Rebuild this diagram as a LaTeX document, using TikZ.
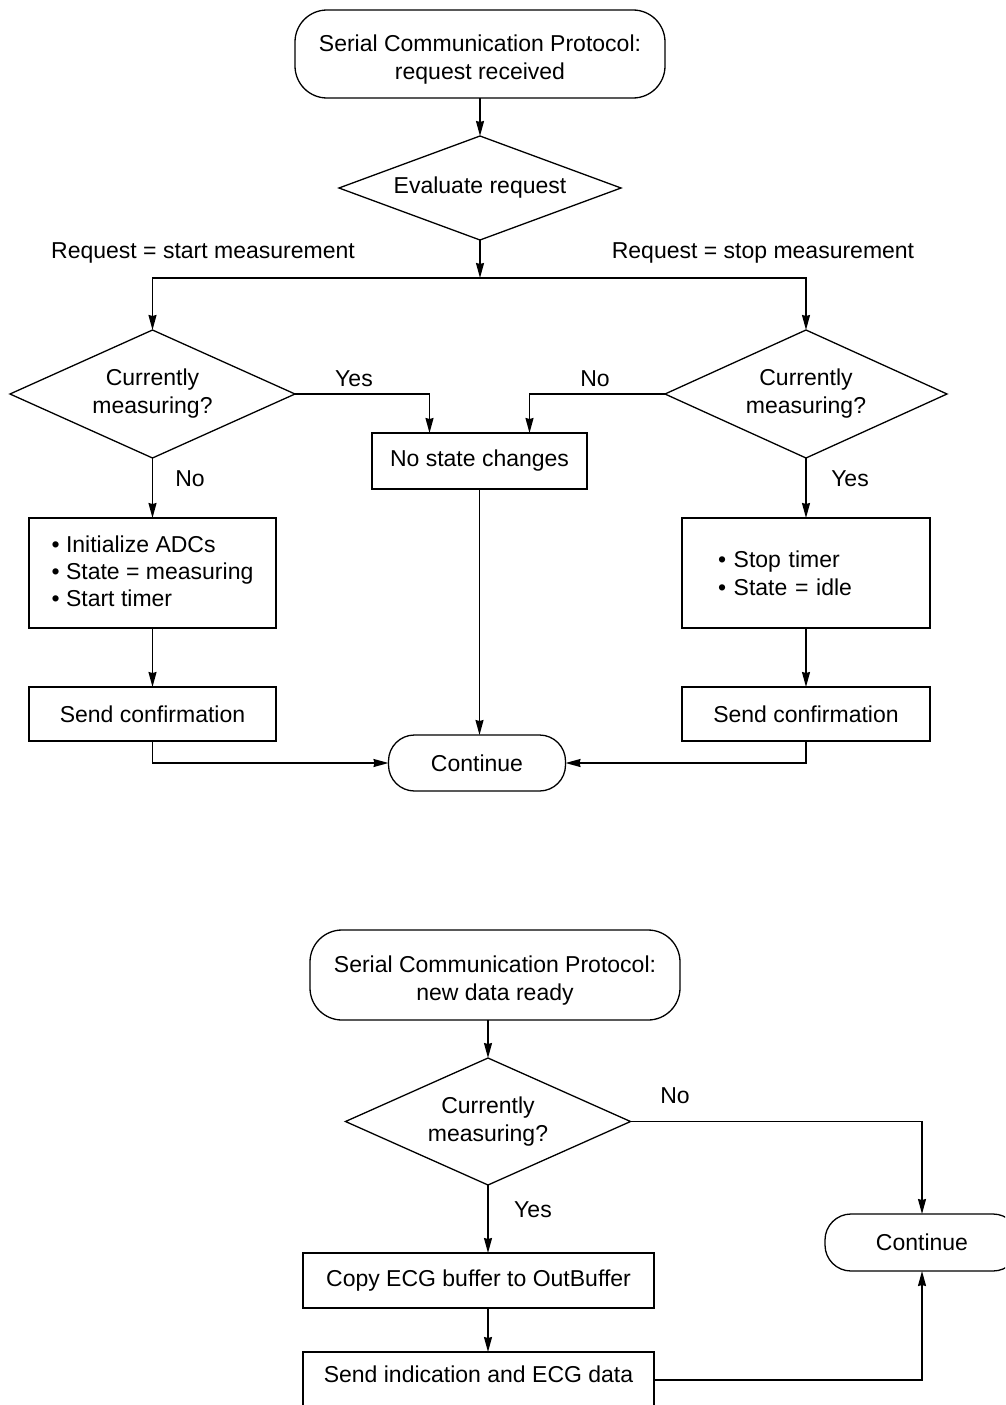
\documentclass[tikz,border=0pt]{standalone}
\usepackage{fontspec}
\setmainfont{Liberation Sans}
\usetikzlibrary{arrows.meta,shapes.geometric}
\begin{document}
\begin{tikzpicture}[x=1pt,y=-1pt,
  font=\fontsize{23}{28}\selectfont,
  every node/.style={inner sep=0pt, outer sep=0pt},
  term/.style={draw, line width=1.3pt, rectangle, rounded corners=#1, align=center},
  dec/.style={draw, line width=1.3pt, diamond, align=center},
  proc/.style={draw, line width=1.6pt, rectangle, align=center},
  lbl/.style={font=\fontsize{23}{28}\selectfont},
  arr/.style={line width=1.5pt, -{Stealth[length=15pt,width=8pt,inset=1pt]}},
  ln/.style={line width=1.5pt}]
\useasboundingbox (0,0) rectangle (1005,1405);
\clip (0,0) rectangle (1005,1405);

% ---------- top flow ----------
\node[term=32pt, minimum width=370pt, minimum height=88pt] (t1) at (480,54)
  {\rule{0pt}{27pt}Serial Communication Protocol:\\request received};
\node[dec, aspect=2.9, minimum width=282pt, minimum height=104pt] (ev) at (480,188) {Evaluate request};
\coordinate (j) at (480,278);
\node[dec, aspect=2.3, minimum width=285pt, minimum height=128pt] (d1) at (152.5,394) {Currently\\measuring?};
\node[dec, aspect=2.3, minimum width=282pt, minimum height=128pt] (d2) at (806,394) {Currently\\measuring?};
\node[proc, minimum width=215pt, minimum height=56pt] (nsc) at (479.5,461) {No state changes};
\node[proc, minimum width=247pt, minimum height=110pt, align=left] (b1) at (152.5,573)
  {\textbullet\ Initialize ADCs\\[-1pt]\textbullet\ State = measuring\\[-1pt]\textbullet\ Start timer\\[-24pt]};
\node[proc, minimum width=248pt, minimum height=110pt, text width=176pt, inner xsep=36pt, align=left] (b2) at (806,573)
  {\textbullet\ Stop timer\\\textbullet\ State = idle\\[-2pt]};
\node[proc, minimum width=247pt, minimum height=54pt] (sc1) at (152.5,714) {Send confirmation};
\node[proc, minimum width=248pt, minimum height=54pt] (sc2) at (806,714) {Send confirmation};
\node[term=26pt, minimum width=177pt, minimum height=56pt] (c1) at (477,763) {Continue};

\draw[arr] (t1.south) -- (ev.north);
\draw[arr] (ev.south) -- (j);
\draw[arr] (j) -| (d1.north);
\draw[arr] (j) -| (d2.north);
\draw[arr] (d1.east) -| ([xshift=-50pt]nsc.north);
\draw[arr] (d2.west) -| ([xshift=50pt]nsc.north);
\draw[arr] (d1.south) -- (b1.north);
\draw[arr] (d2.south) -- (b2.north);
\draw[arr] (b1.south) -- (sc1.north);
\draw[arr] (b2.south) -- (sc2.north);
\draw[arr] (nsc.south) -- (nsc.south |- c1.north);
\draw[arr] (sc1.south) |- (c1.west);
\draw[arr] (sc2.south) |- (c1.east);

\node[lbl] (l1) at (203,253) {Request = start measurement};
\node[lbl] (l2) at (763,253) {Request = stop measurement};
\node[lbl] (l3) at (354,379) {Yes};
\node[lbl] (l4) at (595,379) {No};
\node[lbl] (l5) at (190,479) {No};
\node[lbl] (l6) at (850,479) {Yes};

% ---------- bottom flow ----------
\node[term=32pt, minimum width=370pt, minimum height=90pt] (t2) at (495,975)
  {\rule{0pt}{27pt}Serial Communication Protocol:\\new data ready};
\node[dec, aspect=2.3, minimum width=285pt, minimum height=127pt] (d3) at (488,1121.5) {Currently\\measuring?};
\node[proc, minimum width=351pt, minimum height=55pt] (cp) at (478.5,1280.5) {Copy ECG buffer to OutBuffer};
\node[proc, minimum width=351pt, minimum height=56pt] (sd) at (478.5,1380) {Send indication and ECG data\\[-16pt]};
\node[term=26pt, minimum width=194pt, minimum height=57pt] (c2) at (922,1242.5) {Continue};

\draw[arr] (t2.south -| d3.north) -- (d3.north);
\draw[arr] (d3.south) -- (cp.north -| d3.south);
\draw[arr] (cp.south -| d3.south) -- (sd.north -| d3.south);
\draw[arr] (d3.east) -| (c2.north);
\draw[arr] (sd.east) -| (c2.south);

\node[lbl] (l7) at (675,1096) {No};
\node[lbl] (l8) at (533,1210) {Yes};
\end{tikzpicture}
\end{document}
